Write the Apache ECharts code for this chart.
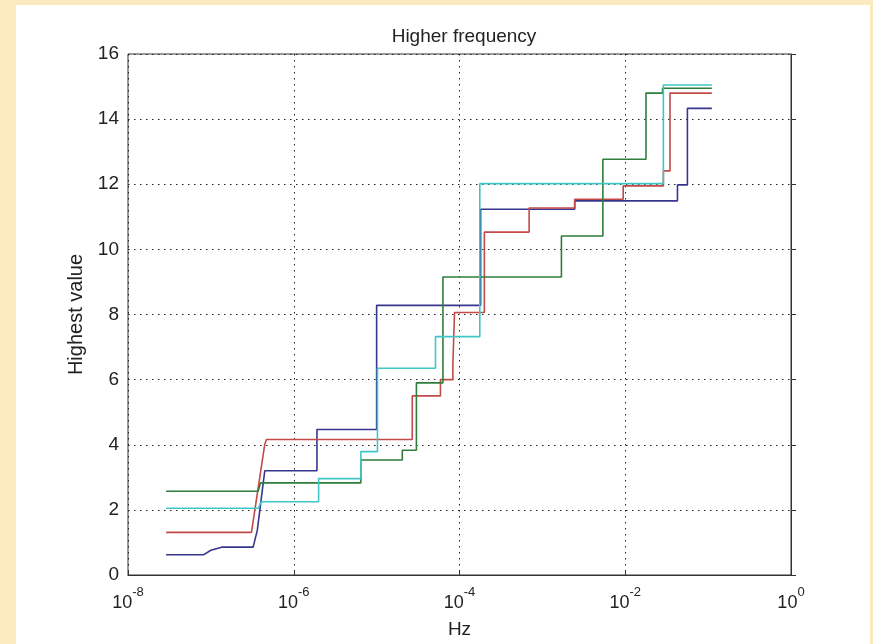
<!DOCTYPE html>
<html>
<head>
<meta charset="utf-8">
<title>Higher frequency</title>
<script src="https://cdn.jsdelivr.net/npm/echarts@6/dist/echarts.min.js"></script>
<style>
    html, body {
        margin: 0;
        padding: 0;
        width: 873px;
        height: 644px;
        background: #fbeabf;
        overflow: hidden;
    }
    #chart {
        position: absolute;
        left: 16px;
        top: 5px;
        width: 854px;
        height: 639px;
        background: #ffffff;
    }
</style>
</head>
<body>
<div id="chart"></div>
<script>
// x values are log10(Hz), y values are the highest value
var xTicks = [-8, -6, -4, -2, 0];
var yTicks = [0, 2, 4, 6, 8, 10, 12, 14, 16];

var blueLogHz = [-7.54, -7.09, -7.0, -6.87, -6.49, -6.44, -6.35, -5.72, -5.72, -5.0, -5.0, -3.745, -3.745, -2.61, -2.61, -1.37, -1.37, -1.25, -1.25, -0.955];
var blueValue = [0.62, 0.62, 0.76, 0.855, 0.855, 1.37, 3.2, 3.2, 4.47, 4.47, 8.28, 8.28, 11.23, 11.23, 11.49, 11.49, 11.98, 11.98, 14.33, 14.33];

var redLogHz = [-7.54, -6.51, -6.35, -6.33, -4.57, -4.57, -4.23, -4.23, -4.08, -4.08, -4.06, -4.06, -3.70, -3.70, -3.16, -3.16, -2.61, -2.61, -2.025, -2.025, -1.54, -1.54, -1.46, -1.46, -0.955];
var redValue = [1.31, 1.31, 4.01, 4.16, 4.16, 5.5, 5.5, 6.0, 6.0, 6.48, 6.48, 8.06, 8.06, 10.53, 10.53, 11.27, 11.27, 11.54, 11.54, 11.95, 11.95, 12.41, 12.41, 14.8, 14.8];

var greenLogHz = [-7.54, -6.43, -6.40, -5.19, -5.19, -4.69, -4.69, -4.52, -4.52, -4.20, -4.20, -2.77, -2.77, -2.27, -2.27, -1.75, -1.75, -1.55, -1.55, -0.955];
var greenValue = [2.57, 2.57, 2.83, 2.83, 3.53, 3.53, 3.83, 3.83, 5.9, 5.9, 9.15, 9.15, 10.41, 10.41, 12.77, 12.77, 14.8, 14.8, 14.95, 14.95];

var cyanLogHz = [-7.54, -6.43, -6.39, -5.70, -5.70, -5.19, -5.19, -4.99, -4.99, -4.29, -4.29, -3.755, -3.755, -1.54, -1.54, -0.955];
var cyanValue = [2.05, 2.05, 2.25, 2.25, 2.96, 2.96, 3.79, 3.79, 6.35, 6.35, 7.32, 7.32, 12.02, 12.02, 15.05, 15.05];

function pairs(xs, ys) {
    return xs.map(function(x, i) {
        return [x, ys[i]];
    });
}

function lineSeries(name, color, xs, ys) {
    return {
        name: name,
        type: 'line',
        data: pairs(xs, ys),
        symbol: 'none',
        smooth: false,
        lineStyle: { color: color, width: 1.6 },
        z: 3
    };
}

var font = "'Liberation Sans', Arial, sans-serif";
var textColor = '#222';
var gridDots = { color: '#222', width: 1, type: [1.5, 4.5] };

var myChart = echarts.init(document.getElementById('chart'));
var option = {
    animation: false,
    backgroundColor: '#ffffff',
    title: {
        text: 'Higher frequency',
        left: 443,
        top: 17,
        textAlign: 'center',
        textStyle: { fontFamily: font, fontSize: 19, fontWeight: 'normal', color: textColor }
    },
    grid: {
        left: 112,
        top: 49,
        right: 79,
        bottom: 66,
        show: true,
        borderColor: '#333',
        borderWidth: 1,
        backgroundColor: '#ffffff'
    },
    xAxis: {
        type: 'value',
        min: xTicks[0],
        max: xTicks[xTicks.length - 1],
        interval: 2,
        name: 'Hz',
        nameLocation: 'middle',
        nameGap: 45,
        nameTextStyle: { fontFamily: font, fontSize: 19, color: textColor },
        axisLine: { onZero: false, lineStyle: { color: '#333', width: 1 } },
        axisTick: { inside: true, length: 5, lineStyle: { color: '#333' } },
        splitLine: { show: true, lineStyle: gridDots },
        axisLabel: {
            margin: 11,
            formatter: function(v) {
                return '{b|10}{s|' + v + '}';
            },
            rich: {
                b: { fontFamily: font, fontSize: 18, color: textColor, lineHeight: 26, verticalAlign: 'bottom' },
                s: { fontFamily: font, fontSize: 13, color: textColor, lineHeight: 26, verticalAlign: 'top' }
            }
        }
    },
    yAxis: {
        type: 'value',
        min: yTicks[0],
        max: yTicks[yTicks.length - 1],
        interval: 2,
        name: 'Highest value',
        nameLocation: 'middle',
        nameGap: 40,
        nameTextStyle: { fontFamily: font, fontSize: 20, color: textColor },
        axisLine: { show: true, lineStyle: { color: '#333', width: 1 } },
        axisTick: { show: true, inside: true, length: 5, lineStyle: { color: '#333' } },
        splitLine: { show: true, lineStyle: gridDots },
        axisLabel: { margin: 9, fontFamily: font, fontSize: 19, color: textColor }
    },
    series: [
        lineSeries('blue', '#36368e', blueLogHz, blueValue),
        lineSeries('red', '#c44a4a', redLogHz, redValue),
        lineSeries('green', '#2f7d3c', greenLogHz, greenValue),
        lineSeries('cyan', '#3fc6c6', cyanLogHz, cyanValue)
    ]
};
myChart.setOption(option);
</script>
</body>
</html>
